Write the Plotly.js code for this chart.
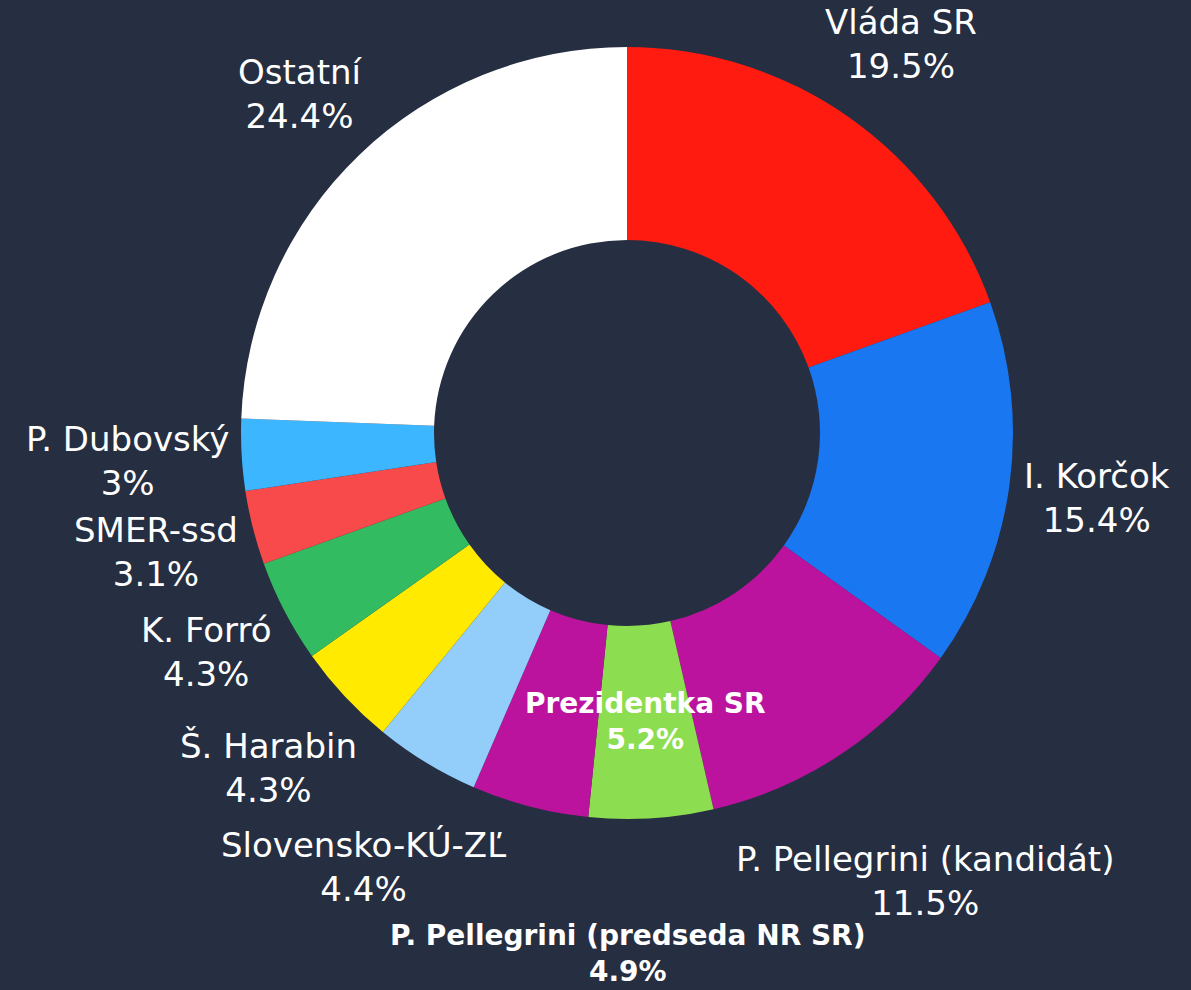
<!DOCTYPE html>
<html>
<head>
<meta charset="utf-8">
<script src="https://cdn.plot.ly/plotly-3.0.1.min.js"></script>
<style>html,body{margin:0;padding:0;background:#262e41;}</style>
</head>
<body>
<div id="chart" style="width:1191px;height:990px;"></div>
<script>
// ---- data ----
const labels = ["Vláda SR", "I. Korčok", "P. Pellegrini (kandidát)", "Prezidentka SR", "P. Pellegrini (predseda NR SR)", "Slovensko-KÚ-ZĽ", "Š. Harabin", "K. Forró", "SMER-ssd", "P. Dubovský", "Ostatní"];
const values = [19.5, 15.4, 11.5, 5.2, 4.9, 4.4, 4.3, 4.3, 3.1, 3, 24.4];
const colors = ["#ff1b10", "#1a77f2", "#bb139e", "#8ddd50", "#bb139e", "#93cdf9", "#ffea00", "#33bb62", "#f84a4a", "#3bb6ff", "#ffffff"];
const boldLabels = ["Prezidentka SR", "P. Pellegrini (predseda NR SR)"];
const insideLabels = ["Prezidentka SR"];

// ---- layout geometry ----
const W = 1191, H = 990;
const margin = {l: 241, r: 178, t: 47, b: 171};
const hole = 0.5;
const FONT = "DejaVu Sans";
const regSize = 34, boldSize = 28;
const LINE = 1.3;

const plotW = W - margin.l - margin.r, plotH = H - margin.t - margin.b;
const R = Math.min(plotW, plotH) / 2;
const cx = margin.l + plotW / 2, cy = margin.t + plotH / 2;

const canvas = document.createElement("canvas");
const ctx = canvas.getContext("2d");
function textW(s, size, bold) {
  ctx.font = (bold ? "bold " : "") + size + "px '" + FONT + "'";
  return ctx.measureText(s).width;
}

const total = values.reduce((a, b) => a + b, 0);
let cum = 0;
const items = labels.map((lab, i) => {
  const mid = (cum + values[i] / 2) / total * 2 * Math.PI;
  cum += values[i];
  const bold = boldLabels.includes(lab);
  const size = bold ? boldSize : regSize;
  const pct = values[i] + "%";
  const w = Math.max(textW(lab, size, bold), textW(pct, size, bold));
  const h = 2 * LINE * size;
  const s = Math.sin(mid), c = Math.cos(mid);
  const inside = insideLabels.includes(lab);
  let d;
  if (inside) d = (R + hole * R) / 2;
  else d = R + 10 + Math.abs(s) * w / 2 + Math.abs(c) * h / 2;
  return {lab, pct, bold, size, w, h, s, c, d, inside, x: cx + d * s, y: cy - d * c};
});

// simple collision avoidance for outside labels
const placed = [];
const order = items.filter(it => !it.inside).sort((a, b) => Math.abs(a.c) - Math.abs(b.c));
function overlaps(a, b) {
  return Math.abs(a.x - b.x) < (a.w + b.w) / 2 - 1 && Math.abs(a.y - b.y) < (a.h + b.h) / 2 - 1;
}
order.forEach(it => {
  for (let k = 0; k < 20; k++) {
    const hit = placed.find(p => overlaps(it, p));
    if (!hit) break;
    if (it.c < 0) it.y = hit.y + (hit.h + it.h) / 2;
    else it.y = hit.y - (hit.h + it.h) / 2;
    it.y = Math.min(Math.max(it.y, it.h / 2), H - it.h / 2);
    const dy = it.y - cy;
    const dx = Math.sqrt(Math.max(0, it.d * it.d - dy * dy));
    it.x = cx + Math.sign(it.s) * dx;
    if (Math.abs(it.y - (H - it.h / 2)) < 0.5 || Math.abs(it.y - it.h / 2) < 0.5) break;
  }
  placed.push(it);
});

const annotations = items.map(it => ({
  xref: "paper", yref: "paper",
  x: (it.x - margin.l) / plotW,
  y: 1 - (it.y - margin.t) / plotH,
  xanchor: "center", yanchor: "middle",
  showarrow: false,
  align: "center",
  text: it.bold ? "<b>" + it.lab + "</b><br><b>" + it.pct + "</b>" : it.lab + "<br>" + it.pct,
  font: {family: FONT, size: it.size, color: "#ffffff"}
}));

Plotly.newPlot("chart", [{
  type: "pie",
  labels: labels,
  values: values,
  hole: hole,
  sort: false,
  direction: "clockwise",
  rotation: 0,
  marker: {colors: colors, line: {width: 0}},
  textposition: "none",
  showlegend: false,
  automargin: false
}], {
  width: W,
  height: H,
  paper_bgcolor: "#262e41",
  plot_bgcolor: "#262e41",
  margin: margin,
  showlegend: false,
  annotations: annotations
}, {displayModeBar: false, staticPlot: true});
</script>
</body>
</html>
